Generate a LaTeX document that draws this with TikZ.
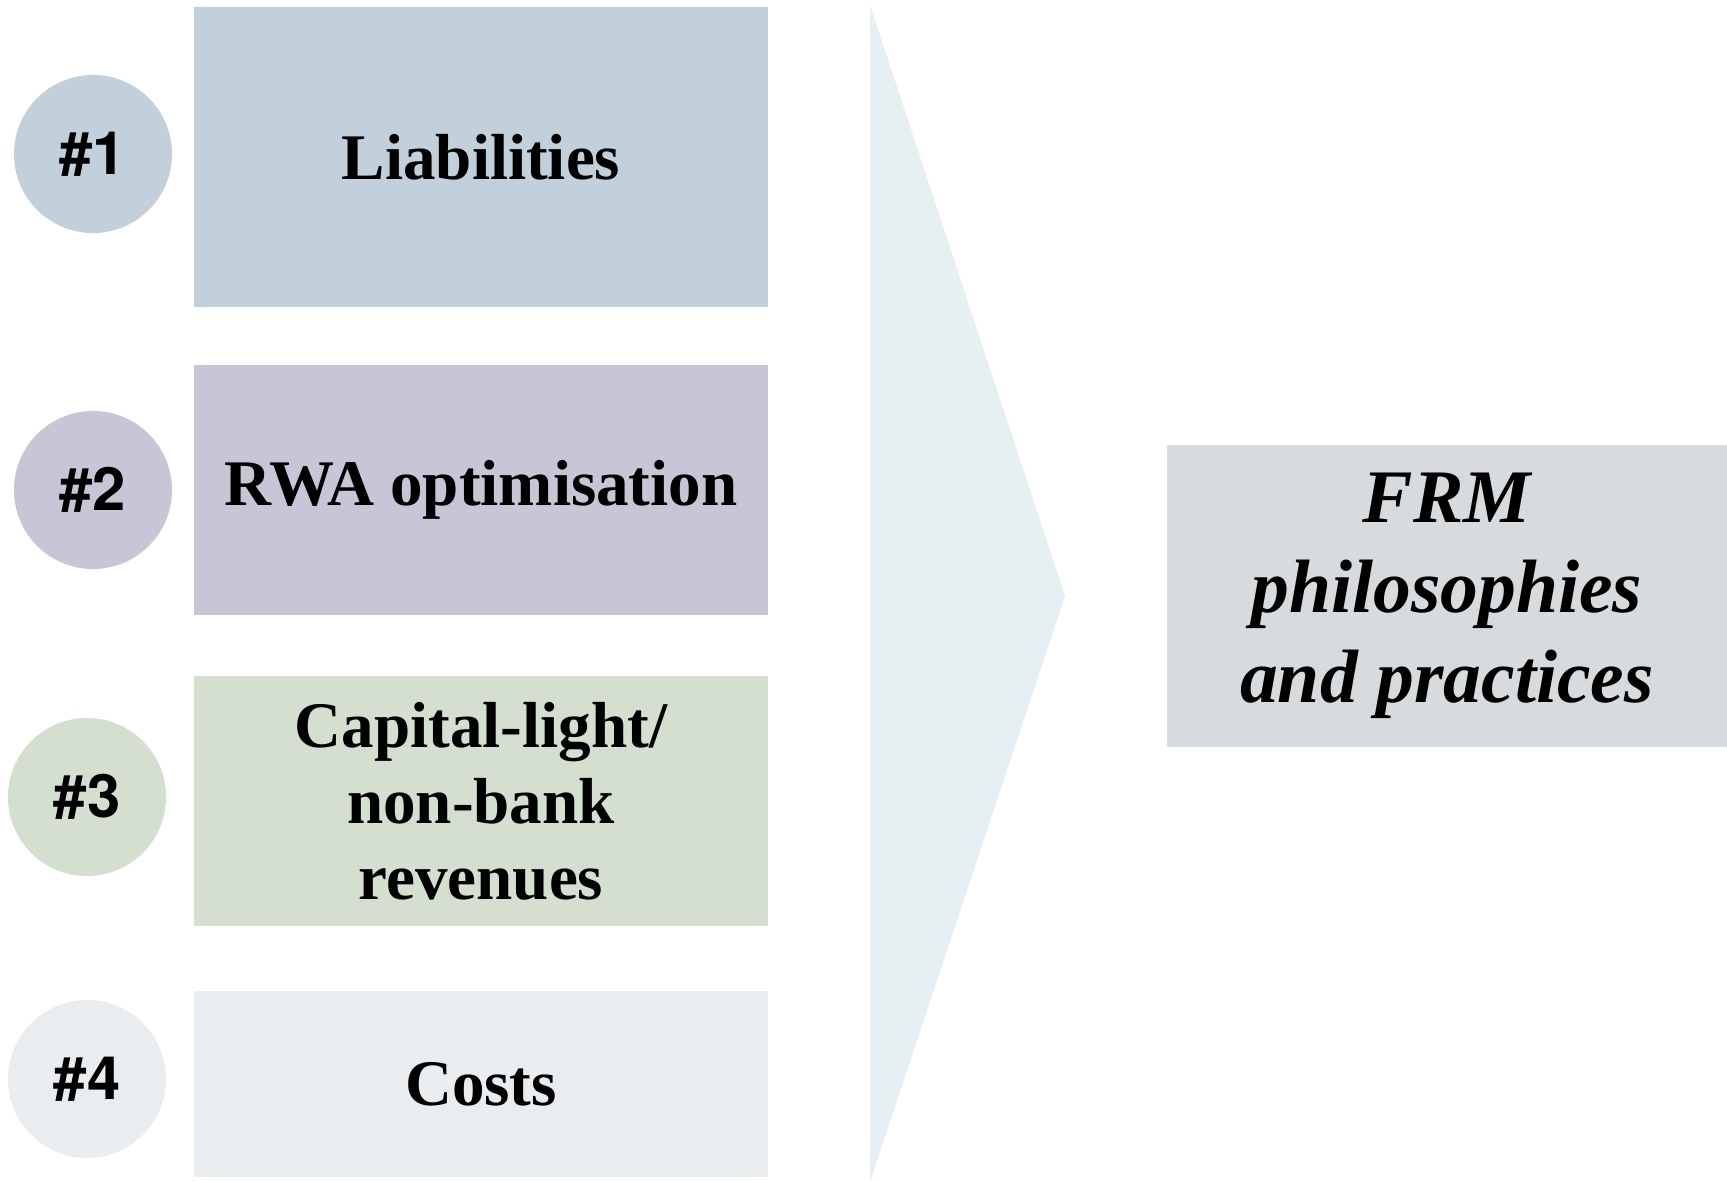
\documentclass[tikz,border=0pt]{standalone}
\usepackage{fontspec}
\setmainfont{Liberation Serif}
\newfontfamily\hashfont{TeX Gyre Heros}
\usepackage{tikz}

\definecolor{liabcol}{HTML}{C1D0DB}
\definecolor{rwacol}{HTML}{C8C6D6}
\definecolor{capcol}{HTML}{D4DFD0}
\definecolor{costcol}{HTML}{E9EDF0}
\definecolor{chevcol}{HTML}{E6EFF2}
\definecolor{frmcol}{HTML}{D7DBDE}

\begin{document}
\begin{tikzpicture}[x=0.01cm, y=-0.01cm,
		numcircle/.style={circle, minimum size=1.58cm, inner sep=0pt,
			font=\hashfont\bfseries\fontsize{17}{20}\selectfont},
		leverbox/.style={rectangle, minimum width=5.74cm, inner sep=0pt, align=center,
			font=\bfseries\fontsize{18.5}{21.6}\selectfont}]
		\useasboundingbox (0, 0) rectangle (1727, 1182);
		
		% arrow shape behind the result
		\fill[chevcol] (870, 5) -- (1065, 596) -- (870, 1182) -- cycle;
		
		\node[numcircle, fill=liabcol] (c1) at (93, 154) {\#1};
		\node[numcircle, fill=rwacol] (c2) at (93, 490) {\#2};
		\node[numcircle, fill=capcol] (c3) at (87, 797) {\#3};
		\node[numcircle, fill=costcol] (c4) at (87, 1079) {\#4};
		
		\node[leverbox, fill=liabcol, minimum height=3cm] (b1) at (481, 157) {Liabilities};
		\node[leverbox, fill=rwacol, minimum height=2.5cm] (b2) at (481, 490) {RWA optimisation};
		\node[leverbox, fill=capcol, minimum height=2.5cm] (b3) at (481, 801) {Capital-light/\\non-bank\\revenues};
		\node[leverbox, fill=costcol, minimum height=1.86cm] (b4) at (481, 1084) {Costs};
		
		\node[rectangle, fill=frmcol, minimum width=5.6cm, minimum height=3.01cm, inner sep=0pt,
			align=center, font=\bfseries\itshape\fontsize{21.5}{25.6}\selectfont]
			(frm) at (1447, 596) {FRM\\philosophies\\and practices};
\end{tikzpicture}
\end{document}
